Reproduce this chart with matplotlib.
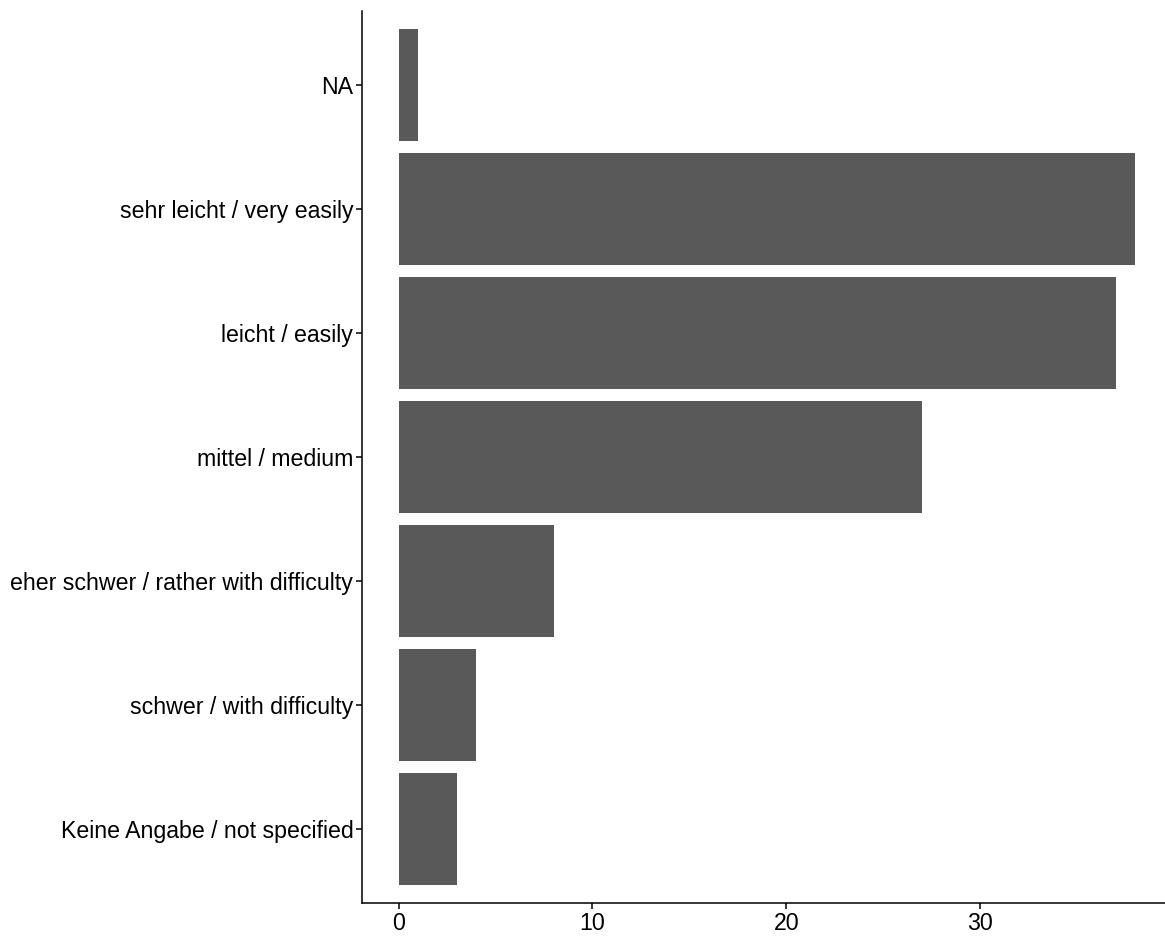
import matplotlib.pyplot as plt
import numpy as np

plt.rcParams['font.family'] = ['Liberation Sans', 'DejaVu Sans']

# categories from bottom to top
categories = ['Keine Angabe / not specified', 'schwer / with difficulty',
              'eher schwer / rather with difficulty', 'mittel / medium',
              'leicht / easily', 'sehr leicht / very easily', 'NA']
counts = [3, 4, 8, 27, 37, 38, 1]
xticks = [0, 10, 20, 30]

W, H = 1165, 936
fig = plt.figure(figsize=(W / 100, H / 100), dpi=100)
left, right = 361.7, 1172
bottom, top = 903.4, 10.6
ax = fig.add_axes([left / W, 1 - bottom / H, (right - left) / W, (bottom - top) / H])

y = np.arange(1, len(categories) + 1)
ax.barh(y, counts, height=0.9, color='#595959')

ax.set_xlim(-1.9, 39.9)
ax.set_ylim(0.4, len(categories) + 0.6)
ax.set_yticks(y)
ax.set_yticklabels(categories)
ax.set_xticks(xticks)

for s in ['top', 'right']:
    ax.spines[s].set_visible(False)
for s in ['left', 'bottom']:
    ax.spines[s].set_linewidth(1.1)
ax.tick_params(axis='both', length=4, width=1.1, labelsize=16.7, colors='black')
ax.tick_params(axis='y', pad=2)
ax.tick_params(axis='x', pad=2)

fig.savefig('out.png', dpi=100)
